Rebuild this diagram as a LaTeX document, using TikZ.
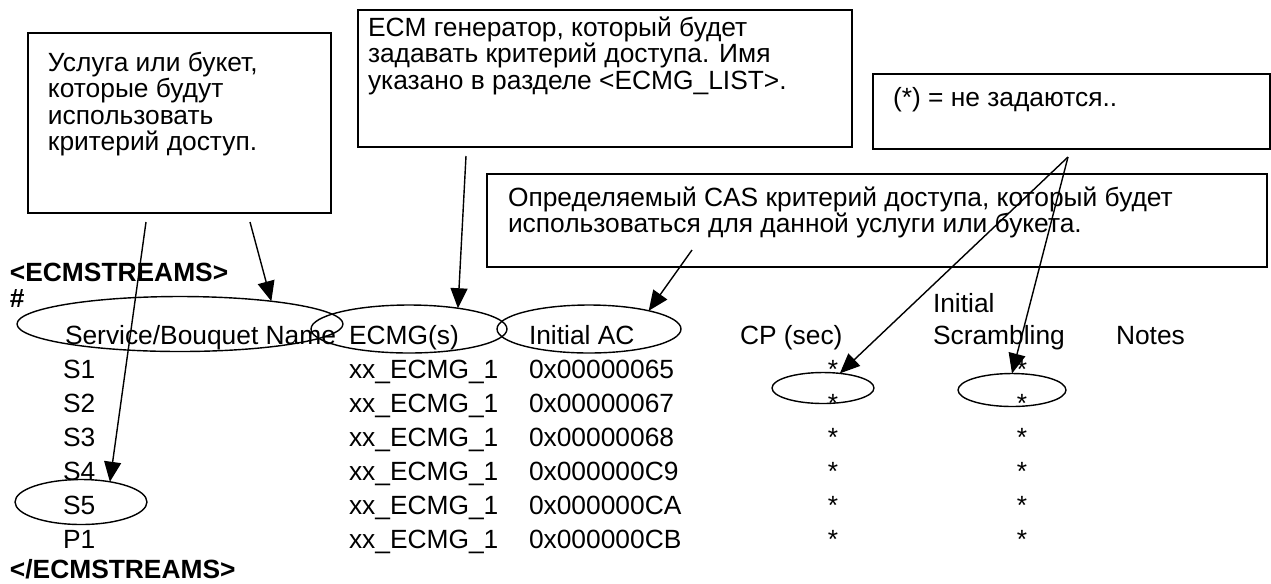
\documentclass[tikz,border=0pt]{standalone}
\usepackage{fontspec}
\setmainfont{Liberation Sans}
\usetikzlibrary{shapes.geometric,arrows.meta}
\begin{document}
\begin{tikzpicture}[x=0.02cm, y=-0.02cm, every node/.style={inner sep=0pt, outer sep=0pt, font=\fontsize{15}{15}\selectfont}, cell/.style={anchor=base west}, starcell/.style={anchor=base}, tag/.style={anchor=base west, font=\fontsize{15}{15}\selectfont\bfseries}, note/.style={draw, line width=1.1pt, anchor=north west}, notetext/.style={anchor=north west, align=left}, ring/.style={draw, ellipse, line width=0.8pt}, pointer/.style={-{Triangle[length=0.4cm, width=0.34cm]}, line width=0.8pt}]
        \useasboundingbox (0,0) rectangle (1271,583);
        \node[note, minimum width=6.06cm, minimum height=3.6cm] (b1) at (28,33) {};
        \node[note, minimum width=9.88cm, minimum height=2.74cm] (b2) at (358,10) {};
        \node[note, minimum width=7.94cm, minimum height=1.5cm] (b3) at (873,74) {};
        \node[note, minimum width=15.6cm, minimum height=1.86cm] (b4) at (487,174) {};
        \node[notetext] (t1) at (48,52) {Услуга или букет,\\которые будут\\использовать\\критерий доступ.};
        \node[notetext] (t2) at (368,17) {ECM генератор, который будет\\задавать критерий доступа. Имя\\указано в разделе <ECMG\_LIST>.};
        \node[notetext] (t3) at (893,87) {(*) = не задаются..};
        \node[notetext] (t4) at (508,187) {Определяемый CAS критерий доступа, который будет\\использоваться для данной услуги или букета.};
        \node[tag] (open) at (10,281) {<ECMSTREAMS>};
        \node[tag] (hash) at (10,307) {\#};
        \node[cell] (hsvc) at (65,344) {Service/Bouquet Name};
        \node[cell] (hecmg) at (349,344) {ECMG(s)};
        \node[cell] (hac) at (529,344) {Initial AC};
        \node[cell] (hcp) at (740,344) {CP (sec)};
        \node[cell] (hini) at (933,312) {Initial};
        \node[cell] (hscr) at (933,344) {Scrambling};
        \node[cell] (hnotes) at (1116,344) {Notes};
        \node[cell] (s1) at (63,378) {S1};
        \node[cell] (g1) at (349,378) {xx\_ECMG\_1};
        \node[cell] (a1) at (529,378) {0x00000065};
        \node[starcell] (c1) at (833,378) {*};
        \node[starcell] (i1) at (1022,378) {*};
        \node[cell] (s2) at (63,412) {S2};
        \node[cell] (g2) at (349,412) {xx\_ECMG\_1};
        \node[cell] (a2) at (529,412) {0x00000067};
        \node[starcell] (c2) at (833,412) {*};
        \node[starcell] (i2) at (1022,412) {*};
        \node[cell] (s3) at (63,446) {S3};
        \node[cell] (g3) at (349,446) {xx\_ECMG\_1};
        \node[cell] (a3) at (529,446) {0x00000068};
        \node[starcell] (c3) at (833,446) {*};
        \node[starcell] (i3) at (1022,446) {*};
        \node[cell] (s4) at (63,480) {S4};
        \node[cell] (g4) at (349,480) {xx\_ECMG\_1};
        \node[cell] (a4) at (529,480) {0x000000C9};
        \node[starcell] (c4) at (833,480) {*};
        \node[starcell] (i4) at (1022,480) {*};
        \node[cell] (s5) at (63,514) {S5};
        \node[cell] (g5) at (349,514) {xx\_ECMG\_1};
        \node[cell] (a5) at (529,514) {0x000000CA};
        \node[starcell] (c5) at (833,514) {*};
        \node[starcell] (i5) at (1022,514) {*};
        \node[cell] (p1) at (63,548) {P1};
        \node[cell] (g6) at (349,548) {xx\_ECMG\_1};
        \node[cell] (a6) at (529,548) {0x000000CB};
        \node[starcell] (c6) at (833,548) {*};
        \node[starcell] (i6) at (1022,548) {*};
        \node[tag] (close) at (10,578) {</ECMSTREAMS>};
        \node[ring, minimum width=6.52cm, minimum height=1.1cm] (rsvc) at (180,324) {};
        \node[ring, minimum width=3.92cm, minimum height=0.96cm] (recmg) at (409,329) {};
        \node[ring, minimum width=3.68cm, minimum height=0.96cm] (rac) at (589,329) {};
        \node[ring, minimum width=2.04cm, minimum height=0.62cm] (rcp) at (823,388) {};
        \node[ring, minimum width=2.16cm, minimum height=0.66cm] (rscr) at (1012,390) {};
        \node[ring, minimum width=2.64cm, minimum height=0.9cm] (rs5) at (81,502) {};
        \coordinate (f1) at (146,222);
        \coordinate (f2) at (250,222);
        \coordinate (f3) at (466,156);
        \coordinate (f4) at (692,250);
        \coordinate (f5) at (1068,157);
        \draw[pointer] (f1) -- (rs5.35);
        \draw[pointer] (f2) -- (rsvc.14);
        \draw[pointer] (f3) -- (recmg.23);
        \draw[pointer] (f4) -- (rac.17);
        \draw[pointer] (f5) -- (rcp.41);
        \draw[pointer] (f5) -- (rscr.north);
    \end{tikzpicture}
\end{document}
